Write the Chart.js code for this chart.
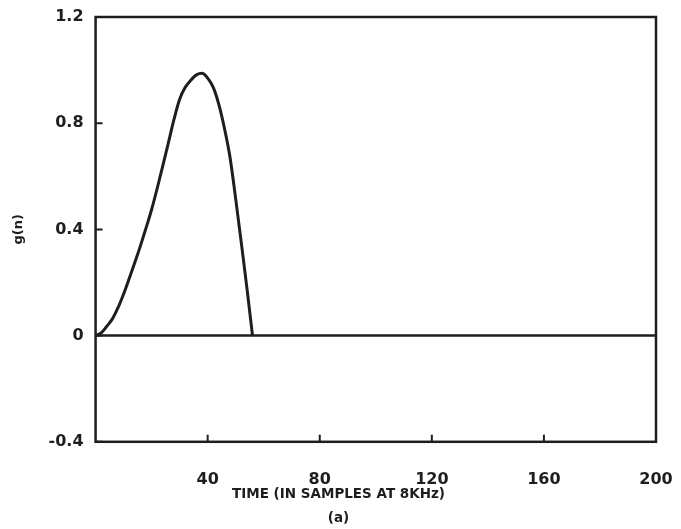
<!DOCTYPE html>
<html>
<head>
<meta charset="utf-8">
<script src="https://cdn.jsdelivr.net/npm/chart.js@4.4.1/dist/chart.umd.min.js"></script>
<style>
html,body{margin:0;padding:0;background:#fff;}
#wrap{width:681px;height:529px;}
</style>
</head>
<body>
<div id="wrap"><canvas id="c" width="681" height="529"></canvas></div>
<script>
// Sample index n (time in samples at 8 kHz)
const pulseN = [0,2,4,6,8,10,12,14,16,18,20,22,24,26,28,30,32,34,36,38,40,42,44,46,48,50,52,54,56];
// Glottal pulse g(n)
const pulseG = [0,0.01,0.035,0.063,0.105,0.157,0.215,0.275,0.338,0.405,0.475,0.555,0.64,0.727,0.815,0.89,0.935,0.962,0.982,0.988,0.97,0.935,0.87,0.78,0.67,0.515,0.35,0.18,0];
// Zero baseline
const baseN = [0,200];
const baseG = [0,0];
// Tick labels
const xTicks = [40,80,120,160,200];
const yTicks = [-0.4,0,0.4,0.8,1.2];
// Axis titles
const xTitleLines = ['TIME (IN SAMPLES AT 8KHz)', '(a)'];
const yTitle = 'g(n)';

const ink = '#1e1e1e';
const fontFam = '"DejaVu Sans", "Liberation Sans", sans-serif';

const framePlugin = {
  id: 'frame',
  afterDraw(chart){
    const {ctx, chartArea:a, scales:{x,y}} = chart;
    ctx.save();
    ctx.strokeStyle = ink;
    ctx.lineWidth = 2.5;
    ctx.strokeRect(a.left, a.top, a.right-a.left, a.bottom-a.top);
    ctx.lineWidth = 2;
    ctx.beginPath();
    xTicks.forEach(v=>{
      const px = x.getPixelForValue(v);
      ctx.moveTo(px, a.bottom); ctx.lineTo(px, a.bottom-7);
    });
    yTicks.forEach(v=>{
      const py = y.getPixelForValue(v);
      ctx.moveTo(a.left, py); ctx.lineTo(a.left+7, py);
    });
    ctx.stroke();
    // x-axis caption (centred on the page, as in the original figure)
    ctx.fillStyle = ink;
    ctx.textAlign = 'center';
    ctx.textBaseline = 'middle';
    ctx.font = 'bold 13.5px ' + fontFam;
    const cx = chart.width / 2 - 2;
    ctx.fillText(xTitleLines[0], cx, a.bottom + 53);
    ctx.fillText(xTitleLines[1], cx, a.bottom + 77);
    ctx.restore();
  }
};

new Chart(document.getElementById('c'), {
  type: 'line',
  data: {
    datasets: [
      {
        data: pulseN.map((n,i)=>({x:n, y:pulseG[i]})),
        borderColor: ink, borderWidth: 3, pointRadius: 0, cubicInterpolationMode: 'monotone', fill: false
      },
      {
        data: baseN.map((n,i)=>({x:n, y:baseG[i]})),
        borderColor: ink, borderWidth: 2.5, pointRadius: 0, tension: 0, fill: false
      }
    ]
  },
  options: {
    responsive: false,
    animation: false,
    devicePixelRatio: 1,
    layout: { padding: { left: 11, right: 0, top: 0, bottom: 12 } },
    plugins: { legend: { display: false }, tooltip: { enabled: false } },
    scales: {
      x: {
        type: 'linear', min: 0, max: 200,
        afterBuildTicks(scale){ scale.ticks = xTicks.map(v=>({value:v})); },
        afterFit(scale){ scale.paddingLeft = 0; scale.paddingRight = 25; },
        grid: { display: false, drawTicks: false },
        border: { display: false },
        ticks: { color: ink, font: { family: fontFam, size: 16, weight: 'bold' }, padding: 28, maxRotation: 0 },
        title: { display: false }
      },
      y: {
        type: 'linear', min: -0.4, max: 1.2,
        afterBuildTicks(scale){ scale.ticks = yTicks.map(v=>({value:v})); },
        afterFit(scale){ scale.paddingTop = 17; scale.paddingBottom = 0; },
        grid: { display: false, drawTicks: false },
        border: { display: false },
        ticks: { color: ink, font: { family: fontFam, size: 16, weight: 'bold' }, padding: 12,
                 callback: v => v === 0 ? '0' : String(v) },
        title: { display: true, text: yTitle, color: ink, font: { family: fontFam, size: 13, weight: 'bold' }, padding: { top: 0, bottom: 10 } }
      }
    }
  },
  plugins: [framePlugin]
});
</script>
</body>
</html>
